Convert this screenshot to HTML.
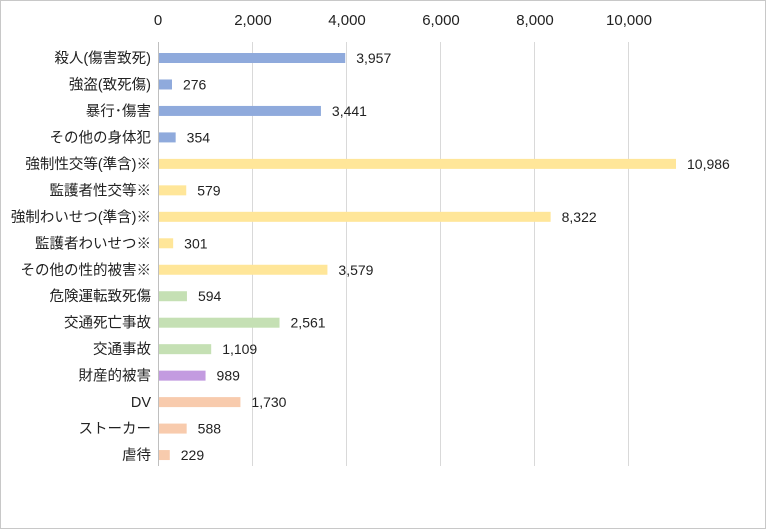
<!DOCTYPE html><html><head><style>body{margin:0;background:#fff}svg{display:block}text{font-family:"Liberation Sans","Noto Sans CJK JP",sans-serif;font-size:14px;fill:#222}.l{font-size:14.5px}</style></head><body>
<svg width="766" height="529" xmlns="http://www.w3.org/2000/svg">
<rect x="0.5" y="0.5" width="765" height="528" fill="#fff" stroke="#c8c8c8"/>
<g stroke="#d9d9d9"><line x1="252.5" y1="42" x2="252.5" y2="466"/><line x1="346.5" y1="42" x2="346.5" y2="466"/><line x1="440.5" y1="42" x2="440.5" y2="466"/><line x1="534.5" y1="42" x2="534.5" y2="466"/><line x1="628.5" y1="42" x2="628.5" y2="466"/></g>
<line x1="158.5" y1="42" x2="158.5" y2="466" stroke="#bfbfbf"/>
<g text-anchor="middle"><text x="158" y="25" style="font-size:15px">0</text><text x="253" y="25" style="font-size:15px">2,000</text><text x="347" y="25" style="font-size:15px">4,000</text><text x="441" y="25" style="font-size:15px">6,000</text><text x="535" y="25" style="font-size:15px">8,000</text><text x="629" y="25" style="font-size:15px">10,000</text></g>
<g id="bars"></g>
</svg>
<script>
var d=[["殺人(傷害致死)",3957,"#8faadc"],["強盗(致死傷)",276,"#8faadc"],["暴行･傷害",3441,"#8faadc"],["その他の身体犯",354,"#8faadc"],["強制性交等(準含)※",10986,"#ffe699"],["監護者性交等※",579,"#ffe699"],["強制わいせつ(準含)※",8322,"#ffe699"],["監護者わいせつ※",301,"#ffe699"],["その他の性的被害※",3579,"#ffe699"],["危険運転致死傷",594,"#c5e0b4"],["交通死亡事故",2561,"#c5e0b4"],["交通事故",1109,"#c5e0b4"],["財産的被害",989,"#c39be0"],["DV",1730,"#f8cbad"],["ストーカー",588,"#f8cbad"],["虐待",229,"#f8cbad"]];
var g=document.getElementById("bars"),s="";
d.forEach(function(r,i){var y=58+i*26.47,w=r[1]*0.04706;
s+='<rect x="159" y="'+(y-5)+'" width="'+w+'" height="10" fill="'+r[2]+'"/>';
s+='<text class="l" x="151" y="'+(y+5)+'" text-anchor="end">'+r[0]+'</text>';
s+='<text x="'+(159+w+11)+'" y="'+(y+5)+'">'+r[1].toLocaleString("en-US")+'</text>';});
g.innerHTML=s;
</script>
</body></html>
